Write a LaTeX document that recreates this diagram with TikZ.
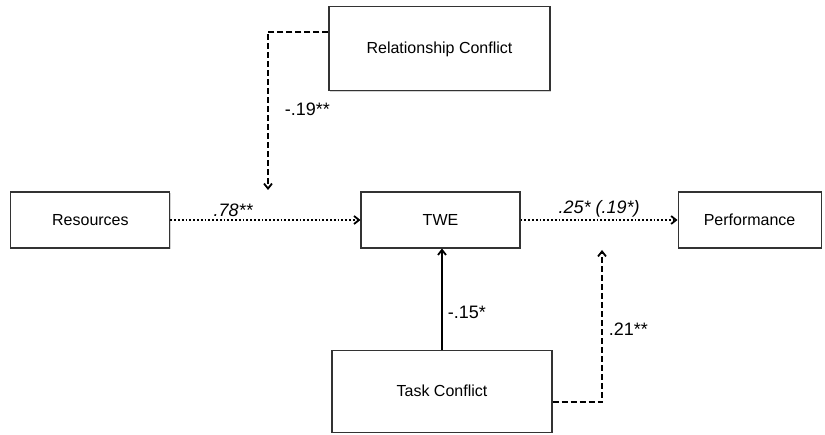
\documentclass[tikz,border=0pt]{standalone}
\usepackage{fontspec}
\setmainfont{Liberation Sans}
\usetikzlibrary{arrows.meta,positioning,calc,shadows}

\begin{document}
\begin{tikzpicture}[
    x=1pt, y=-1pt,
    % --- STYLES ---
    construct/.style={
        rectangle, draw=black!80, fill=white,
        line width=1.1pt,
        minimum width=159pt,
        minimum height=56pt,
        align=center,
        font=\fontsize{16}{19}\selectfont,
        drop shadow={shadow xshift=1.2pt, shadow yshift=-1.2pt, opacity=0.35}
    },
    coef/.style={font=\fontsize{18}{21}\selectfont, inner sep=2pt},
    path/.style={-{Straight Barb[length=5pt, width=8pt]}, line width=1.8pt},
    direct/.style={path, dotted},
    moderation/.style={path, dash pattern=on 6pt off 3pt}
]

% ===== 1. BOUNDS =====
\useasboundingbox (0,0) rectangle (825,435);

% ===== 2. CONSTRUCTS =====
\node[construct] (twe) at (440.5,220) {TWE};

\node[construct, left=190pt of twe] (res) {Resources};

\node[construct, right=157pt of twe, minimum width=143pt] (perf) {Performance};

\node[construct, above=100pt of twe, minimum width=221pt, minimum height=84pt,
      xshift=-1pt] (relcon) {Relationship Conflict};

\node[construct, below=101pt of twe, minimum width=220pt, minimum height=82pt,
      xshift=1.5pt] (taskcon) {Task Conflict};

% end points of the moderating paths
\coordinate (reltip) at (268,190);
\coordinate (tasktip) at (602,250);

% ===== 3. PATHS =====

% -- Main paths --
\draw[direct] (res) -- node[coef, above, pos=0.33, font=\fontsize{18}{21}\selectfont\itshape] {.78**} (twe);
\draw[direct] (twe) -- node[coef, above, font=\fontsize{18}{21}\selectfont\itshape] {.25* (.19*)} (perf);

% -- Task conflict on TWE --
\draw[path] (taskcon.north) -- node[coef, right, pos=0.37, xshift=3pt] {-.15*} (taskcon.north |- twe.south);

% -- Moderation --
\draw[moderation] ([yshift=17pt]relcon.west) -| (reltip)
    node[coef, pos=0.745, right, xshift=14pt] {-.19**};
\draw[moderation] ([yshift=-11pt]taskcon.east) -| (tasktip)
    node[coef, pos=0.74, right, xshift=4pt] {.21**};

\end{tikzpicture}
\end{document}
